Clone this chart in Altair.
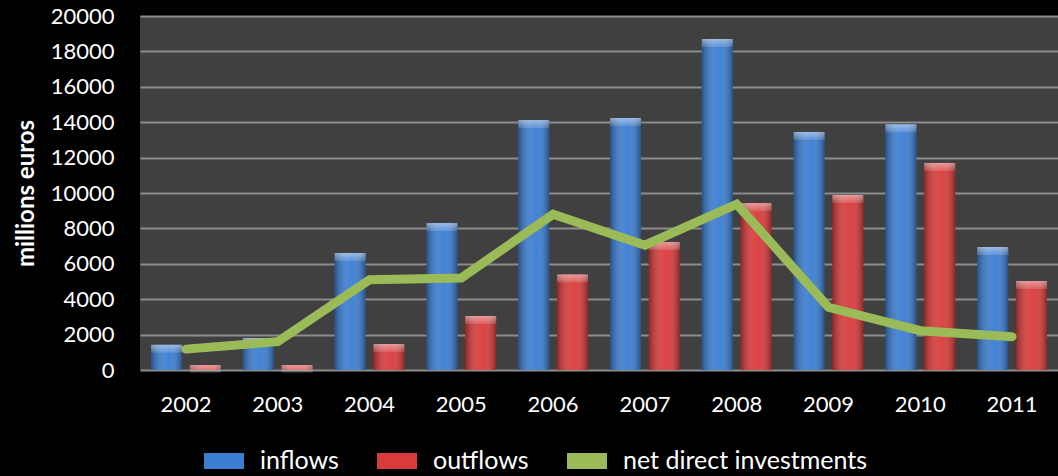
import altair as alt
import pandas as pd

years = ["2002", "2003", "2004", "2005", "2006", "2007", "2008", "2009", "2010", "2011"]
inflows = [1430, 1810, 6610, 8300, 14120, 14240, 18700, 13450, 13880, 6950]
outflows = [280, 280, 1470, 3050, 5400, 7230, 9430, 9890, 11700, 5030]
net_direct = [1180, 1600, 5100, 5200, 8800, 7050, 9370, 3540, 2220, 1880]

series_names = ["inflows", "outflows", "net direct investments"]
series_colors = ["#3b7dd1", "#d83b3b", "#9bbb59"]

bars = pd.DataFrame(
    [{"year": y, "series": "inflows", "value": v} for y, v in zip(years, inflows)]
    + [{"year": y, "series": "outflows", "value": v} for y, v in zip(years, outflows)]
)
net = pd.DataFrame({"year": years, "series": "net direct investments", "value": net_direct})

FONT = "Lato"

x_enc = alt.X(
    "year:N",
    sort=years,
    scale=alt.Scale(paddingInner=0.24, paddingOuter=0.12),
    axis=alt.Axis(
        title=None, labelAngle=0, labelFontSize=22, labelColor="white", labelFont=FONT,
        labelPadding=24, ticks=False, domain=False, grid=False,
    ),
)
y_enc = alt.Y(
    "value:Q",
    scale=alt.Scale(domain=[0, 20000], nice=False),
    axis=alt.Axis(
        title="millions euros", titleFontSize=24, titleFont=FONT, titleColor="white",
        titleFontWeight="bold", titlePadding=12, format="d",
        values=list(range(0, 20001, 2000)), labelFontSize=22, labelFont=FONT,
        labelColor="white", labelPadding=26, ticks=False, domain=False,
        gridColor="#8c8c8c", gridWidth=2,
    ),
)
xoff = alt.XOffset("series:N", sort=series_names[:2], scale=alt.Scale(paddingInner=0.2))

color_scale = alt.Scale(domain=series_names, range=series_colors)

bar_layer = alt.Chart(bars).mark_bar().encode(
    x=x_enc, xOffset=xoff, y=y_enc,
    color=alt.Color(
        "series:N", scale=color_scale, sort=series_names,
        legend=alt.Legend(
            title=None, orient="none", direction="horizontal", legendX=64, legendY=425,
            labelFontSize=25, labelFont=FONT, labelColor="white", labelOffset=16,
            symbolType="M-1,-0.4H1V0.4H-1Z", symbolSize=1600, symbolStrokeWidth=0,
            symbolOpacity=1, columnPadding=38, labelLimit=400,
        ),
    ),
)

# side shading across each bar
shade = alt.Chart(bars).mark_bar(
    fill=alt.Gradient(
        gradient="linear", x1=0, x2=1, y1=0, y2=0,
        stops=[
            alt.GradientStop(color="rgba(0,0,0,0.35)", offset=0),
            alt.GradientStop(color="rgba(255,255,255,0.08)", offset=0.45),
            alt.GradientStop(color="rgba(255,255,255,0.05)", offset=0.6),
            alt.GradientStop(color="rgba(0,0,0,0.35)", offset=1),
        ],
    )
).encode(x=x_enc, xOffset=xoff, y=y_enc)

# light bevel at the top of each bar
bevel = alt.Chart(bars).mark_bar(
    y2Offset=8,
    fill=alt.Gradient(
        gradient="linear", x1=0, x2=0, y1=0, y2=1,
        stops=[
            alt.GradientStop(color="rgba(255,255,255,0.45)", offset=0),
            alt.GradientStop(color="rgba(255,255,255,0.12)", offset=1),
        ],
    ),
).encode(x=x_enc, xOffset=xoff, y=y_enc, y2=alt.Y2("value:Q"))

line_layer = alt.Chart(net).mark_line(strokeWidth=9, strokeCap="round", strokeJoin="miter").encode(
    x=x_enc, y=y_enc,
    color=alt.Color("series:N", scale=color_scale, sort=series_names),
)

chart = (
    alt.layer(bar_layer, shade, bevel, line_layer)
    .properties(
        width=918, height=354,
        autosize=alt.AutoSizeParams(type="none"),
        padding={"left": 140, "top": 16, "right": 0, "bottom": 106},
        background="black",
    )
    .configure_view(fill="#404040", stroke=None)
)

chart.save("out.html", embed_options={"renderer": "svg", "actions": False})
